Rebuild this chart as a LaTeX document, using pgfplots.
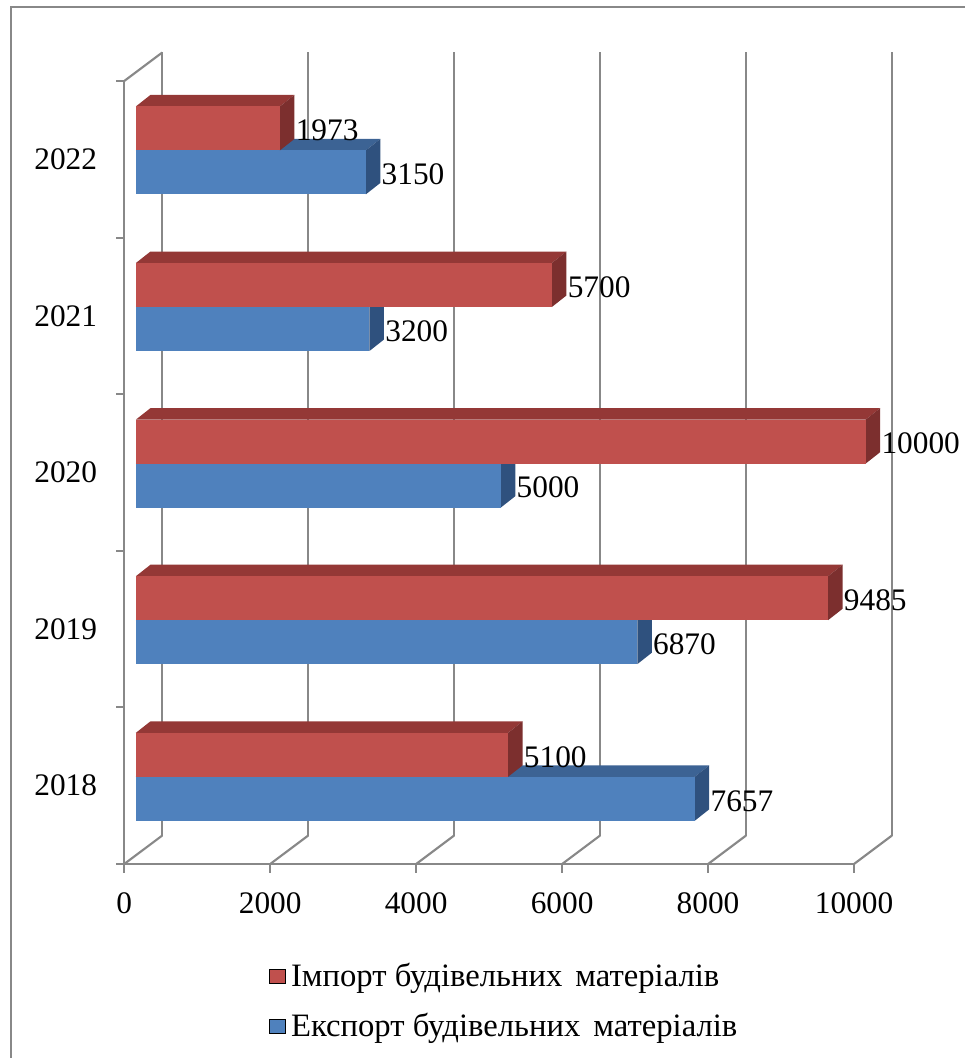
\documentclass[border=0pt]{standalone}
\usepackage{fontspec}
\setmainfont{Liberation Serif}
\usepackage{pgfplots}
\usepackage{pgfplotstable}
\pgfplotsset{compat=1.18}

\definecolor{rfront}{RGB}{192,80,77}
\definecolor{rtop}{RGB}{148,56,54}
\definecolor{rside}{RGB}{124,47,46}
\definecolor{bfront}{RGB}{79,129,189}
\definecolor{btop}{RGB}{60,99,148}
\definecolor{bside}{RGB}{47,81,126}
\definecolor{gridc}{RGB}{136,136,136}

% trade in building materials
\pgfplotstableread{
year imp exp
2018 5100 7657
2019 9485 6870
2020 10000 5000
2021 5700 3200
2022 1973 3150
}\trade

% projection constants (data units)
\def\cbXo{160}   % front face start
\def\cbDx{199}   % bar depth, x
\def\cbDy{0.073} % bar depth, y
\def\cbH{0.281}  % bar thickness

\tikzset{vlabel/.style={anchor=west, inner sep=0pt, font=\fontsize{23.5}{28}\selectfont}}

% one extruded bar: #1 bottom y, #2 value, #3 front, #4 top, #5 side colour
\newcommand{\cuboid}[5]{%
  \pgfmathsetmacro\cbXa{\cbXo}%
  \pgfmathsetmacro\cbXb{\cbXo+#2}%
  \pgfmathsetmacro\cbXc{\cbXo+#2+\cbDx}%
  \pgfmathsetmacro\cbXd{\cbXo+\cbDx}%
  \pgfmathsetmacro\cbYa{#1}%
  \pgfmathsetmacro\cbYb{#1+\cbH}%
  \pgfmathsetmacro\cbYc{#1+\cbH+\cbDy}%
  \pgfmathsetmacro\cbYe{#1+\cbDy}%
  \pgfmathsetmacro\cbLx{\cbXc+15}%
  \pgfmathsetmacro\cbLy{#1+\cbH/2-0.013}%
  \addplot[fill=#4, draw=none, forget plot] coordinates
    {(\cbXa,\cbYb) (\cbXb,\cbYb) (\cbXc,\cbYc) (\cbXd,\cbYc)};
  \addplot[fill=#5, draw=none, forget plot] coordinates
    {(\cbXb,\cbYa) (\cbXc,\cbYe) (\cbXc,\cbYc) (\cbXb,\cbYb)};
  \addplot[fill=#3, draw=none, forget plot] coordinates
    {(\cbXa,\cbYa) (\cbXb,\cbYa) (\cbXb,\cbYb) (\cbXa,\cbYb)};
  \edef\cbNode{\noexpand\node[vlabel] at (axis cs:\cbLx,\cbLy) {#2};}\cbNode
}

\begin{document}
\begin{tikzpicture}
\path[use as bounding box] (0,0) rectangle (723.75pt,793.5pt);
\draw[gridc, line width=1.4pt] (8pt,0) -- (8pt,788pt) -- (723.75pt,788pt);
\begin{axis}[
  scale only axis,
  width=547.3pt, height=587.25pt,
  at={(93.2pt,145.5pt)}, anchor=south west,
  xmin=0, xmax=10000, ymin=0, ymax=5,
  clip=false,
  axis line style={draw=none},
  major tick length=0pt,
  scaled ticks=false,
  xtick={0,2000,4000,6000,8000,10000},
  xticklabels={0,2000,4000,6000,8000,10000},
  ytick={0.5,1.5,2.5,3.5,4.5},
  yticklabels={2018,2019,2020,2021,2022},
  tick label style={font=\fontsize{23.5}{28}\selectfont, inner sep=0pt},
  xticklabel style={anchor=base, yshift=-36.75pt},
  yticklabel style={anchor=east, xshift=-20.2pt},
  legend image code/.code={\fill[#1] (0pt,-5.25pt) rectangle (12pt,5.25pt);},
  legend cell align=left,
  legend style={draw=none, fill=none, at={(0.1983,-0.125)}, anchor=north west,
    font=\fontsize{24.5}{29}\selectfont, inner sep=0pt,
    nodes={inner sep=1pt}, row sep=16.5pt, column sep=3pt},
]
% walls and floor
\pgfplotsinvokeforeach{0,2000,4000,6000,8000,10000}{
  \addplot[gridc, line width=1.6pt, forget plot] coordinates {(#1,0) (#1,-0.058)};
}
\addplot[gridc, line width=1.6pt, forget plot] coordinates {(521,0.182) (521,5.182)};
\addplot[gridc, line width=1.6pt, forget plot] coordinates {(2521,0.182) (2521,5.182)};
\addplot[gridc, line width=1.6pt, forget plot] coordinates {(4521,0.182) (4521,5.182)};
\addplot[gridc, line width=1.6pt, forget plot] coordinates {(6521,0.182) (6521,5.182)};
\addplot[gridc, line width=1.6pt, forget plot] coordinates {(8521,0.182) (8521,5.182)};
\addplot[gridc, line width=1.6pt, forget plot] coordinates {(10521,0.182) (10521,5.182)};
\addplot[gridc, line width=1.6pt, forget plot] coordinates {(0,0) (521,0.182)};
\addplot[gridc, line width=1.6pt, forget plot] coordinates {(2000,0) (2521,0.182)};
\addplot[gridc, line width=1.6pt, forget plot] coordinates {(4000,0) (4521,0.182)};
\addplot[gridc, line width=1.6pt, forget plot] coordinates {(6000,0) (6521,0.182)};
\addplot[gridc, line width=1.6pt, forget plot] coordinates {(8000,0) (8521,0.182)};
\addplot[gridc, line width=1.6pt, forget plot] coordinates {(10000,0) (10521,0.182)};
\addplot[gridc, line width=1.6pt, forget plot] coordinates {(0,5) (521,5.182)};
\addplot[gridc, line width=1.6pt, forget plot] coordinates {(10000,0) (0,0) (0,5)};
\pgfplotsinvokeforeach{0,1,2,3,4,5}{
  \addplot[gridc, line width=1.6pt, forget plot] coordinates {(-110,#1) (0,#1)};
}
% bars: export below, import above
\pgfplotsinvokeforeach{0,...,4}{
  \pgfplotstablegetelem{#1}{exp}\of\trade \let\cbE\pgfplotsretval
  \pgfplotstablegetelem{#1}{imp}\of\trade \let\cbI\pgfplotsretval
  \cuboid{#1+0.276}{\cbE}{bfront}{btop}{bside}
  \cuboid{#1+0.557}{\cbI}{rfront}{rtop}{rside}
}
\addlegendimage{fill=rfront}
\addlegendentry{Імпорт будівельних\hspace{0.15em} матеріалів}
\addlegendimage{fill=bfront}
\addlegendentry{Експорт будівельних\hspace{0.15em} матеріалів}
\end{axis}
\end{tikzpicture}
\end{document}
